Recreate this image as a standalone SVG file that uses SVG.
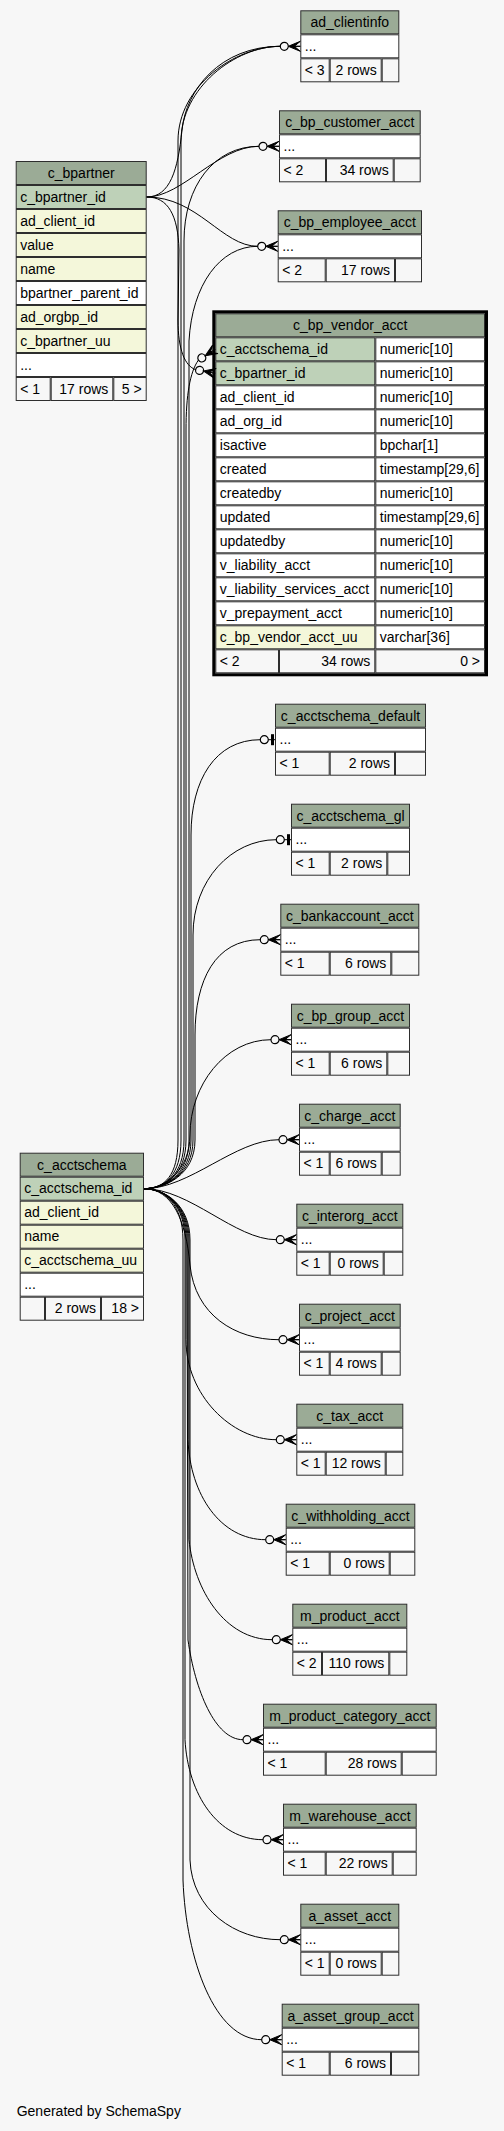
<svg xmlns="http://www.w3.org/2000/svg" xmlns:xlink="http://www.w3.org/1999/xlink" width="504" height="2131" viewBox="0 0 504 2131">
<style>
text{font-family:"Liberation Sans",Arial,Helvetica,sans-serif;font-size:14px;fill:#000}
.c{text-anchor:middle}
.r{text-anchor:end}
.h{fill:#9bab96}
.k{fill:#bed1b8}
.i{fill:#f4f7da}
.w{fill:#fff}
.f{fill:#f7f7f7}
.t rect{stroke:#2e2e2e;stroke-width:1}
.e path{fill:none;stroke:#000;stroke-width:1}
</style>
<defs>
<g id="crowodot">
<path d="M-12,0 L0,-5 L-6,0 L0,0 L-6,0 L0,5 Z" fill="#000" stroke="#000" stroke-width="1"/>
<circle cx="-16" cy="0" r="4" fill="none" stroke="#000" stroke-width="1.2"/>
</g>
<g id="teeodot">
<rect x="-4" y="-5.5" width="3" height="11" fill="#000"/>
<path d="M-6.7,0 H0" stroke="#000" stroke-width="1"/>
<circle cx="-10.7" cy="0" r="4" fill="none" stroke="#000" stroke-width="1.2"/>
</g>
</defs>
<rect width="504" height="2131" fill="#f7f7f7"/>

<g id="c_bpartner" class="t" transform="translate(15.7,161)">
<rect class="h" x=".5" y=".5" width="130" height="23"/>
<rect class="k" x=".5" y="24.5" width="130" height="23"/>
<rect class="i" x=".5" y="48.5" width="130" height="23"/>
<rect class="i" x=".5" y="72.5" width="130" height="23"/>
<rect class="i" x=".5" y="96.5" width="130" height="23"/>
<rect class="w" x=".5" y="120.5" width="130" height="23"/>
<rect class="i" x=".5" y="144.5" width="130" height="23"/>
<rect class="i" x=".5" y="168.5" width="130" height="23"/>
<rect class="w" x=".5" y="192.5" width="130" height="23"/>
<rect class="f" x=".5" y="216.5" width="34" height="23"/>
<rect class="f" x="35.5" y="216.5" width="61.6" height="23"/>
<rect class="f" x="98.1" y="216.5" width="32.4" height="23"/>
<text class="c" x="65.5" y="17">c_bpartner</text>
<text x="4.5" y="40.5">c_bpartner_id</text>
<text x="4.5" y="64.5">ad_client_id</text>
<text x="4.5" y="88.5">value</text>
<text x="4.5" y="112.5">name</text>
<text x="4.5" y="136.5">bpartner_parent_id</text>
<text x="4.5" y="160.5">ad_orgbp_id</text>
<text x="4.5" y="184.5">c_bpartner_uu</text>
<text x="4.5" y="208.5">...</text>
<text x="4.5" y="232.5">&lt; 1</text>
<text class="r" x="92.6" y="232.5">17 rows</text>
<text class="r" x="126" y="232.5">5 &gt;</text>
</g>

<g id="c_acctschema" class="t" transform="translate(19.7,1152.7)">
<rect class="h" x=".5" y=".5" width="123.3" height="23"/>
<rect class="k" x=".5" y="24.5" width="123.3" height="23"/>
<rect class="i" x=".5" y="48.5" width="123.3" height="23"/>
<rect class="i" x=".5" y="72.5" width="123.3" height="23"/>
<rect class="i" x=".5" y="96.5" width="123.3" height="23"/>
<rect class="w" x=".5" y="120.5" width="123.3" height="23"/>
<rect class="f" x=".5" y="144.5" width="24.3" height="23"/>
<rect class="f" x="25.8" y="144.5" width="55" height="23"/>
<rect class="f" x="81.8" y="144.5" width="42" height="23"/>
<text class="c" x="62.15" y="17">c_acctschema</text>
<text x="4.5" y="40.5">c_acctschema_id</text>
<text x="4.5" y="64.5">ad_client_id</text>
<text x="4.5" y="88.5">name</text>
<text x="4.5" y="112.5">c_acctschema_uu</text>
<text x="4.5" y="136.5">...</text>
<text class="r" x="76.3" y="160.5">2 rows</text>
<text class="r" x="119.3" y="160.5">18 &gt;</text>
</g>

<g id="c_bp_vendor_acct" class="t" transform="translate(215.3,313.3)">
<rect class="h" x=".5" y=".5" width="268.7" height="23"/>
<rect class="k" x=".5" y="24.5" width="159" height="23"/><rect class="w" x="160.5" y="24.5" width="108.7" height="23"/>
<rect class="k" x=".5" y="48.5" width="159" height="23"/><rect class="w" x="160.5" y="48.5" width="108.7" height="23"/>
<rect class="w" x=".5" y="72.5" width="159" height="23"/><rect class="w" x="160.5" y="72.5" width="108.7" height="23"/>
<rect class="w" x=".5" y="96.5" width="159" height="23"/><rect class="w" x="160.5" y="96.5" width="108.7" height="23"/>
<rect class="w" x=".5" y="120.5" width="159" height="23"/><rect class="w" x="160.5" y="120.5" width="108.7" height="23"/>
<rect class="w" x=".5" y="144.5" width="159" height="23"/><rect class="w" x="160.5" y="144.5" width="108.7" height="23"/>
<rect class="w" x=".5" y="168.5" width="159" height="23"/><rect class="w" x="160.5" y="168.5" width="108.7" height="23"/>
<rect class="w" x=".5" y="192.5" width="159" height="23"/><rect class="w" x="160.5" y="192.5" width="108.7" height="23"/>
<rect class="w" x=".5" y="216.5" width="159" height="23"/><rect class="w" x="160.5" y="216.5" width="108.7" height="23"/>
<rect class="w" x=".5" y="240.5" width="159" height="23"/><rect class="w" x="160.5" y="240.5" width="108.7" height="23"/>
<rect class="w" x=".5" y="264.5" width="159" height="23"/><rect class="w" x="160.5" y="264.5" width="108.7" height="23"/>
<rect class="w" x=".5" y="288.5" width="159" height="23"/><rect class="w" x="160.5" y="288.5" width="108.7" height="23"/>
<rect class="i" x=".5" y="312.5" width="159" height="23"/><rect class="w" x="160.5" y="312.5" width="108.7" height="23"/>
<rect class="f" x=".5" y="336.5" width="62.7" height="23"/>
<rect class="f" x="64.2" y="336.5" width="95.3" height="23"/>
<rect class="f" x="160.5" y="336.5" width="108.7" height="23"/>
<rect x="-1.5" y="-1.5" width="272.7" height="363" fill="none" style="stroke:#000;stroke-width:3"/>
<text class="c" x="134.85" y="17">c_bp_vendor_acct</text>
<text x="4.5" y="40.5">c_acctschema_id</text><text x="164.5" y="40.5">numeric[10]</text>
<text x="4.5" y="64.5">c_bpartner_id</text><text x="164.5" y="64.5">numeric[10]</text>
<text x="4.5" y="88.5">ad_client_id</text><text x="164.5" y="88.5">numeric[10]</text>
<text x="4.5" y="112.5">ad_org_id</text><text x="164.5" y="112.5">numeric[10]</text>
<text x="4.5" y="136.5">isactive</text><text x="164.5" y="136.5">bpchar[1]</text>
<text x="4.5" y="160.5">created</text><text x="164.5" y="160.5">timestamp[29,6]</text>
<text x="4.5" y="184.5">createdby</text><text x="164.5" y="184.5">numeric[10]</text>
<text x="4.5" y="208.5">updated</text><text x="164.5" y="208.5">timestamp[29,6]</text>
<text x="4.5" y="232.5">updatedby</text><text x="164.5" y="232.5">numeric[10]</text>
<text x="4.5" y="256.5">v_liability_acct</text><text x="164.5" y="256.5">numeric[10]</text>
<text x="4.5" y="280.5">v_liability_services_acct</text><text x="164.5" y="280.5">numeric[10]</text>
<text x="4.5" y="304.5">v_prepayment_acct</text><text x="164.5" y="304.5">numeric[10]</text>
<text x="4.5" y="328.5">c_bp_vendor_acct_uu</text><text x="164.5" y="328.5">varchar[36]</text>
<text x="4.5" y="352.5">&lt; 2</text>
<text class="r" x="155" y="352.5">34 rows</text>
<text class="r" x="264.7" y="352.5">0 &gt;</text>
</g>

<g id="ad_clientinfo" class="t" transform="translate(300.3,10.3)">
<rect class="h" x=".5" y=".5" width="98" height="23"/><rect class="w" x=".5" y="24.5" width="98" height="23"/>
<rect class="f" x=".5" y="48.5" width="28.4" height="23"/><rect class="f" x="29.9" y="48.5" width="51" height="23"/><rect class="f" x="81.9" y="48.5" width="16.6" height="23"/>
<text class="c" x="49.5" y="17">ad_clientinfo</text><text x="4.5" y="40.5">...</text><text x="4.5" y="64.5">&lt; 3</text><text class="r" x="76.4" y="64.5">2 rows</text>
</g>

<g id="c_bp_customer_acct" class="t" transform="translate(279,110.3)">
<rect class="h" x=".5" y=".5" width="140.7" height="23"/><rect class="w" x=".5" y="24.5" width="140.7" height="23"/>
<rect class="f" x=".5" y="48.5" width="46" height="23"/><rect class="f" x="47.5" y="48.5" width="66.7" height="23"/><rect class="f" x="115.2" y="48.5" width="26" height="23"/>
<text class="c" x="70.85" y="17">c_bp_customer_acct</text><text x="4.5" y="40.5">...</text><text x="4.5" y="64.5">&lt; 2</text><text class="r" x="109.7" y="64.5">34 rows</text>
</g>

<g id="c_bp_employee_acct" class="t" transform="translate(277.7,210.3)">
<rect class="h" x=".5" y=".5" width="143.3" height="23"/><rect class="w" x=".5" y="24.5" width="143.3" height="23"/>
<rect class="f" x=".5" y="48.5" width="47" height="23"/><rect class="f" x="48.5" y="48.5" width="68.3" height="23"/><rect class="f" x="117.8" y="48.5" width="26" height="23"/>
<text class="c" x="72.15" y="17">c_bp_employee_acct</text><text x="4.5" y="40.5">...</text><text x="4.5" y="64.5">&lt; 2</text><text class="r" x="112.3" y="64.5">17 rows</text>
</g>

<g id="c_acctschema_default" class="t" transform="translate(275,703.7)">
<rect class="h" x=".5" y=".5" width="150" height="23"/><rect class="w" x=".5" y="24.5" width="150" height="23"/>
<rect class="f" x=".5" y="48.5" width="53.7" height="23"/><rect class="f" x="55.2" y="48.5" width="64.3" height="23"/><rect class="f" x="120.5" y="48.5" width="30" height="23"/>
<text class="c" x="75.5" y="17">c_acctschema_default</text><text x="4.5" y="40.5">...</text><text x="4.5" y="64.5">&lt; 1</text><text class="r" x="115" y="64.5">2 rows</text>
</g>

<g id="c_acctschema_gl" class="t" transform="translate(291,803.7)">
<rect class="h" x=".5" y=".5" width="118" height="23"/><rect class="w" x=".5" y="24.5" width="118" height="23"/>
<rect class="f" x=".5" y="48.5" width="37.7" height="23"/><rect class="f" x="39.2" y="48.5" width="56.6" height="23"/><rect class="f" x="96.8" y="48.5" width="21.7" height="23"/>
<text class="c" x="59.5" y="17">c_acctschema_gl</text><text x="4.5" y="40.5">...</text><text x="4.5" y="64.5">&lt; 1</text><text class="r" x="91.3" y="64.5">2 rows</text>
</g>

<g id="c_bankaccount_acct" class="t" transform="translate(280.3,903.7)">
<rect class="h" x=".5" y=".5" width="138" height="23"/><rect class="w" x=".5" y="24.5" width="138" height="23"/>
<rect class="f" x=".5" y="48.5" width="48.4" height="23"/><rect class="f" x="49.9" y="48.5" width="60.6" height="23"/><rect class="f" x="111.5" y="48.5" width="27" height="23"/>
<text class="c" x="69.5" y="17">c_bankaccount_acct</text><text x="4.5" y="40.5">...</text><text x="4.5" y="64.5">&lt; 1</text><text class="r" x="106" y="64.5">6 rows</text>
</g>

<g id="c_bp_group_acct" class="t" transform="translate(291,1003.7)">
<rect class="h" x=".5" y=".5" width="118" height="23"/><rect class="w" x=".5" y="24.5" width="118" height="23"/>
<rect class="f" x=".5" y="48.5" width="37.7" height="23"/><rect class="f" x="39.2" y="48.5" width="56.6" height="23"/><rect class="f" x="96.8" y="48.5" width="21.7" height="23"/>
<text class="c" x="59.5" y="17">c_bp_group_acct</text><text x="4.5" y="40.5">...</text><text x="4.5" y="64.5">&lt; 1</text><text class="r" x="91.3" y="64.5">6 rows</text>
</g>

<g id="c_charge_acct" class="t" transform="translate(299,1103.7)">
<rect class="h" x=".5" y=".5" width="100.7" height="23"/><rect class="w" x=".5" y="24.5" width="100.7" height="23"/>
<rect class="f" x=".5" y="48.5" width="29.7" height="23"/><rect class="f" x="31.2" y="48.5" width="51" height="23"/><rect class="f" x="83.2" y="48.5" width="18" height="23"/>
<text class="c" x="50.85" y="17">c_charge_acct</text><text x="4.5" y="40.5">...</text><text x="4.5" y="64.5">&lt; 1</text><text class="r" x="77.7" y="64.5">6 rows</text>
</g>

<g id="c_interorg_acct" class="t" transform="translate(296.3,1203.7)">
<rect class="h" x=".5" y=".5" width="106" height="23"/><rect class="w" x=".5" y="24.5" width="106" height="23"/>
<rect class="f" x=".5" y="48.5" width="32.4" height="23"/><rect class="f" x="33.9" y="48.5" width="53" height="23"/><rect class="f" x="87.9" y="48.5" width="18.6" height="23"/>
<text class="c" x="53.5" y="17">c_interorg_acct</text><text x="4.5" y="40.5">...</text><text x="4.5" y="64.5">&lt; 1</text><text class="r" x="82.4" y="64.5">0 rows</text>
</g>

<g id="c_project_acct" class="t" transform="translate(299,1303.7)">
<rect class="h" x=".5" y=".5" width="100.7" height="23"/><rect class="w" x=".5" y="24.5" width="100.7" height="23"/>
<rect class="f" x=".5" y="48.5" width="29.7" height="23"/><rect class="f" x="31.2" y="48.5" width="51" height="23"/><rect class="f" x="83.2" y="48.5" width="18" height="23"/>
<text class="c" x="50.85" y="17">c_project_acct</text><text x="4.5" y="40.5">...</text><text x="4.5" y="64.5">&lt; 1</text><text class="r" x="77.7" y="64.5">4 rows</text>
</g>

<g id="c_tax_acct" class="t" transform="translate(296.3,1403.7)">
<rect class="h" x=".5" y=".5" width="106" height="23"/><rect class="w" x=".5" y="24.5" width="106" height="23"/>
<rect class="f" x=".5" y="48.5" width="28.4" height="23"/><rect class="f" x="29.9" y="48.5" width="59" height="23"/><rect class="f" x="89.9" y="48.5" width="16.6" height="23"/>
<text class="c" x="53.5" y="17">c_tax_acct</text><text x="4.5" y="40.5">...</text><text x="4.5" y="64.5">&lt; 1</text><text class="r" x="84.4" y="64.5">12 rows</text>
</g>

<g id="c_withholding_acct" class="t" transform="translate(285.7,1503.7)">
<rect class="h" x=".5" y=".5" width="128.6" height="23"/><rect class="w" x=".5" y="24.5" width="128.6" height="23"/>
<rect class="f" x=".5" y="48.5" width="43" height="23"/><rect class="f" x="44.5" y="48.5" width="59" height="23"/><rect class="f" x="104.5" y="48.5" width="24.6" height="23"/>
<text class="c" x="64.8" y="17">c_withholding_acct</text><text x="4.5" y="40.5">...</text><text x="4.5" y="64.5">&lt; 1</text><text class="r" x="99" y="64.5">0 rows</text>
</g>

<g id="m_product_acct" class="t" transform="translate(292.3,1603.7)">
<rect class="h" x=".5" y=".5" width="114" height="23"/><rect class="w" x=".5" y="24.5" width="114" height="23"/>
<rect class="f" x=".5" y="48.5" width="28.7" height="23"/><rect class="f" x="30.2" y="48.5" width="66.3" height="23"/><rect class="f" x="97.5" y="48.5" width="17" height="23"/>
<text class="c" x="57.5" y="17">m_product_acct</text><text x="4.5" y="40.5">...</text><text x="4.5" y="64.5">&lt; 2</text><text class="r" x="92" y="64.5">110 rows</text>
</g>

<g id="m_product_category_acct" class="t" transform="translate(263,1703.7)">
<rect class="h" x=".5" y=".5" width="172.7" height="23"/><rect class="w" x=".5" y="24.5" width="172.7" height="23"/>
<rect class="f" x=".5" y="48.5" width="61.7" height="23"/><rect class="f" x="63.2" y="48.5" width="75" height="23"/><rect class="f" x="139.2" y="48.5" width="34" height="23"/>
<text class="c" x="86.85" y="17">m_product_category_acct</text><text x="4.5" y="40.5">...</text><text x="4.5" y="64.5">&lt; 1</text><text class="r" x="133.7" y="64.5">28 rows</text>
</g>

<g id="m_warehouse_acct" class="t" transform="translate(283,1803.7)">
<rect class="h" x=".5" y=".5" width="132.7" height="23"/><rect class="w" x=".5" y="24.5" width="132.7" height="23"/>
<rect class="f" x=".5" y="48.5" width="41.7" height="23"/><rect class="f" x="43.2" y="48.5" width="66" height="23"/><rect class="f" x="110.2" y="48.5" width="23" height="23"/>
<text class="c" x="66.85" y="17">m_warehouse_acct</text><text x="4.5" y="40.5">...</text><text x="4.5" y="64.5">&lt; 1</text><text class="r" x="104.7" y="64.5">22 rows</text>
</g>

<g id="a_asset_acct" class="t" transform="translate(300.3,1903.7)">
<rect class="h" x=".5" y=".5" width="98" height="23"/><rect class="w" x=".5" y="24.5" width="98" height="23"/>
<rect class="f" x=".5" y="48.5" width="28.4" height="23"/><rect class="f" x="29.9" y="48.5" width="51" height="23"/><rect class="f" x="81.9" y="48.5" width="16.6" height="23"/>
<text class="c" x="49.5" y="17">a_asset_acct</text><text x="4.5" y="40.5">...</text><text x="4.5" y="64.5">&lt; 1</text><text class="r" x="76.4" y="64.5">0 rows</text>
</g>

<g id="a_asset_group_acct" class="t" transform="translate(281.7,2003.7)">
<rect class="h" x=".5" y=".5" width="136.6" height="23"/><rect class="w" x=".5" y="24.5" width="136.6" height="23"/>
<rect class="f" x=".5" y="48.5" width="47" height="23"/><rect class="f" x="48.5" y="48.5" width="60.3" height="23"/><rect class="f" x="109.8" y="48.5" width="27.3" height="23"/>
<text class="c" x="68.8" y="17">a_asset_group_acct</text><text x="4.5" y="40.5">...</text><text x="4.5" y="64.5">&lt; 1</text><text class="r" x="104.3" y="64.5">6 rows</text>
</g>

<g id="connectors" class="e">
<path d="M146.7,197 C170,197 178,170 182,130 C186,90 220,46.3 280.3,46.3"/>
<path d="M146.7,197 C182,197 218,146.3 259,146.3"/>
<path d="M146.7,197 C198,197 222,246.3 257.7,246.3"/>
<path d="M146.7,197 C168,197 178,215 179,250 L178,320 C178,350 185,366 195.7,369.7"/>
<path d="M144,1188.7 C165,1188.7 178,1175 178,1140 L178,141 C178,86 235.3,46.3 280.3,46.3"/>
<path d="M144,1188.7 C165,1188.7 181,1175 181,1140 L181,141 C181,88 235.3,46.3 280.3,46.3"/>
<path d="M144,1188.7 C165,1188.7 184,1175 184,1140 L184,241 C184,186 214,146.3 259,146.3"/>
<path d="M144,1188.7 C165,1188.7 189,1175 189,1140 L189,341 C192,285 220,246.3 257.7,246.3"/>
<path d="M144,1188.7 C165,1188.7 186,1175 186,1140 L186,430 C186,395 190,372 198.4,360.1"/>
<path d="M144,1188.7 C165,1188.7 191,1175 191,1140 L191,835 C191,780 215.3,739.7 260.3,739.7"/>
<path d="M144,1188.7 C165,1188.7 193,1175 193,1140 L193,935 C193,880 231.3,839.7 276.3,839.7"/>
<path d="M144,1188.7 C165,1188.7 195,1175 195,1140 L195,1035 C195,980 215.3,939.7 260.3,939.7"/>
<path d="M144,1188.7 C165,1188.7 190,1170 190,1135 C190,1085 225,1039.7 271,1039.7"/>
<path d="M144,1188.7 C190,1188.7 235,1139.7 279,1139.7"/>
<path d="M144,1188.7 C190,1188.7 235,1239.7 276.3,1239.7"/>
<path d="M144,1188.7 C172,1188.7 186,1220 190,1265 C195,1315 235,1339.7 279,1339.7"/>
<path d="M144,1188.7 C165,1188.7 186,1205 186,1240 L186,1339.7 C186,1394.7 231.3,1439.7 276.3,1439.7"/>
<path d="M144,1188.7 C165,1188.7 188,1205 188,1240 L188,1439.7 C190,1494.7 220.7,1539.7 265.7,1539.7"/>
<path d="M144,1188.7 C165,1188.7 189,1205 189,1240 L189,1539.7 C194,1590 225,1639.7 272.3,1639.7"/>
<path d="M144,1188.7 C165,1188.7 187,1205 187,1240 L188,1640 C195,1690 215,1739.7 243,1739.7"/>
<path d="M144,1188.7 C165,1188.7 185,1205 185,1240 L185,1739.7 C188,1794.7 218,1839.7 263,1839.7"/>
<path d="M144,1188.7 C165,1188.7 190,1205 190,1240 L190,1860 C192,1910 235.3,1939.7 280.3,1939.7"/>
<path d="M144,1188.7 C165,1188.7 183,1205 183,1240 L183,1880 C186,1960 215,2039.7 261.7,2039.7"/>
<use xlink:href="#crowodot" transform="translate(300.3,46.3)"/>
<use xlink:href="#crowodot" transform="translate(279,146.3)"/>
<use xlink:href="#crowodot" transform="translate(277.7,246.3)"/>
<use xlink:href="#crowodot" transform="translate(215.3,349.3) rotate(-32.6)"/>
<use xlink:href="#crowodot" transform="translate(215.3,373.3) rotate(10.6)"/>
<use xlink:href="#teeodot" transform="translate(275,739.7)"/>
<use xlink:href="#teeodot" transform="translate(291,839.7)"/>
<use xlink:href="#crowodot" transform="translate(280.3,939.7)"/>
<use xlink:href="#crowodot" transform="translate(291,1039.7)"/>
<use xlink:href="#crowodot" transform="translate(299,1139.7)"/>
<use xlink:href="#crowodot" transform="translate(296.3,1239.7)"/>
<use xlink:href="#crowodot" transform="translate(299,1339.7)"/>
<use xlink:href="#crowodot" transform="translate(296.3,1439.7)"/>
<use xlink:href="#crowodot" transform="translate(285.7,1539.7)"/>
<use xlink:href="#crowodot" transform="translate(292.3,1639.7)"/>
<use xlink:href="#crowodot" transform="translate(263,1739.7)"/>
<use xlink:href="#crowodot" transform="translate(283,1839.7)"/>
<use xlink:href="#crowodot" transform="translate(300.3,1939.7)"/>
<use xlink:href="#crowodot" transform="translate(281.7,2039.7)"/>
</g>

<text x="16.7" y="2116">Generated by SchemaSpy</text>
</svg>
